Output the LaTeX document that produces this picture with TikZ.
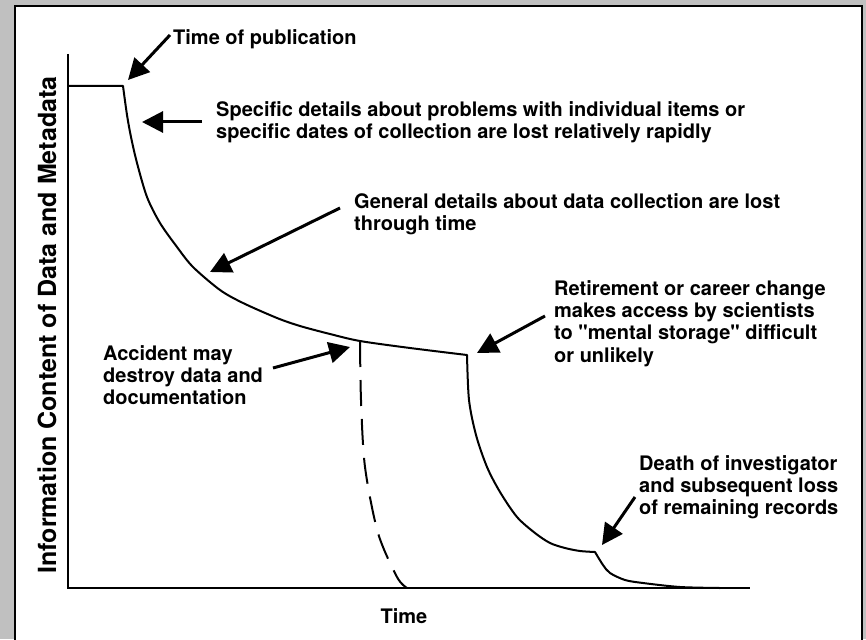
\documentclass[tikz,border=0pt]{standalone}
\usepackage{fontspec}
\setmainfont{TeX Gyre Heros}
\usetikzlibrary{arrows.meta}
\definecolor{panelgray}{RGB}{192,192,192}

\begin{document}
\begin{tikzpicture}[x=1pt,y=-1pt,
  note/.style={font=\fontsize{20}{22.3}\selectfont\bfseries,align=left,inner sep=0pt,anchor=north west},
  pointer/.style={line width=3pt,-{Triangle[length=21pt,width=21pt]}},
  curve/.style={line width=2pt,line join=round}]
  \useasboundingbox (0,0) rectangle (866,639);

  %frame
  \fill[panelgray] (0,0) rectangle (866,639);
  \draw[line width=2pt,fill=white] (15,6) rectangle (862,660);

  %axes
  \draw[line width=2.5pt] (68,54) -- (68,588) -- (750,588);
  \node[font=\fontsize{20}{24}\selectfont\bfseries,inner sep=0pt,anchor=north] (timelbl) at (404,608) {Time};
  \node[font=\fontsize{25}{30}\selectfont\bfseries,inner sep=0pt,rotate=90] (ylbl) at (47,325) {Information Content of Data and Metadata};

  %decay curve
  \draw[curve] (68,86) -- (123,86)
    -- plot[smooth] coordinates {(123,86) (127,115) (131,137) (137,163) (147,197) (160,223) (177,247) (193,267) (220,290) (243,303) (277,318) (300,326) (330,334) (360,341) (410,348) (467,355)}
    -- plot[smooth] coordinates {(467,355) (469,400) (476,435) (487,467) (500,492) (517,517) (535,533) (550,543) (565,548) (580,551) (595,552)}
    -- plot[smooth] coordinates {(595,552) (603,565) (610,573) (625,580) (643,583) (680,587) (720,588)};

  %accident branch
  \draw[curve,dash pattern=on 26pt off 13pt] plot[smooth] coordinates {(360,341) (361,400) (365,467) (378,533) (397,577) (407,588)};

  %labels
  \node[note] (publ) at (173,29) {Time of publication};
  \node[note] (spec) at (216,101) {Specific details about problems with individual items or\\specific dates of collection are lost relatively rapidly};
  \node[note] (gen) at (354,193) {General details about data collection are lost\\through time};
  \node[note] (retire) at (554,280) {Retirement or career change\\makes access by scientists\\to \textquotedbl mental storage\textquotedbl\ difficult\\or unlikely};
  \node[note] (accid) at (103,345) {Accident may\\destroy data and\\documentation};
  \node[note] (death) at (639,455) {Death of investigator\\and subsequent loss\\of remaining records};

  %arrow ends
  \coordinate (publ-s) at (170,35);   \coordinate (publ-e) at (128,80);
  \coordinate (spec-s) at (202,122);  \coordinate (spec-e) at (142,122);
  \coordinate (gen-s) at (340,208);   \coordinate (gen-e) at (210,272);
  \coordinate (accid-s) at (273,368); \coordinate (accid-e) at (350,347);
  \coordinate (retire-s) at (545,316); \coordinate (retire-e) at (477,353);
  \coordinate (death-s) at (635,497); \coordinate (death-e) at (602,545);

  %arrows
  \draw[pointer] (publ-s) -- (publ-e);
  \draw[pointer] (spec-s) -- (spec-e);
  \draw[pointer] (gen-s) -- (gen-e);
  \draw[pointer] (accid-s) -- (accid-e);
  \draw[pointer] (retire-s) -- (retire-e);
  \draw[pointer] (death-s) -- (death-e);
\end{tikzpicture}
\end{document}
